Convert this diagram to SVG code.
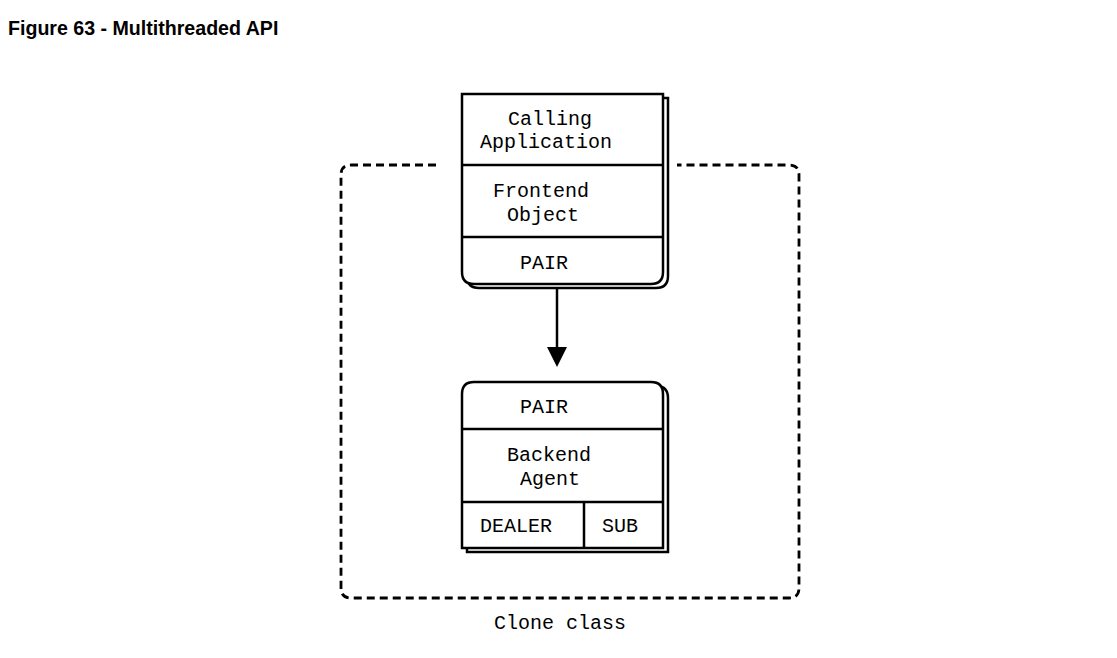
<svg xmlns="http://www.w3.org/2000/svg" width="1117" height="658" viewBox="0 0 1117 658">
<style>
.t{font-family:"Liberation Mono","DejaVu Sans Mono",monospace;font-size:20px;fill:#000;text-anchor:middle}
.title{font-family:"Liberation Sans",Arial,sans-serif;font-size:19.6px;font-weight:bold;fill:#000}
.box{fill:#fff;stroke:#000;stroke-width:2.5}
.ln{stroke:#000;stroke-width:2.5;fill:none}
.dash{fill:none;stroke:#000;stroke-width:2.8;stroke-dasharray:8 5}
</style>
<rect width="1117" height="658" fill="#fff"/>
<text class="title" x="8" y="35">Figure 63 - Multithreaded API</text>
<g id="clone-class">
<path class="dash" d="M436,165 H351 Q341,165 341,175 V588 Q341,598 351,598 H789 Q799,598 799,588 V175 Q799,165 789,165 H677"/>
<text class="t" x="560" y="629">Clone class</text>
</g>
<g id="connectors">
<line class="ln" x1="557" y1="287" x2="557" y2="350"/>
<polygon points="547,347 567,347 557,367" fill="#000"/>
</g>
<g id="frontend">
<path class="box" d="M467,98 H668 V276 Q668,288 656,288 H479 Q467,288 467,276 Z"/>
<path class="box" d="M462,94 H663 V272 Q663,284 651,284 H474 Q462,284 462,272 Z"/>
<line class="ln" x1="462" y1="165" x2="663" y2="165"/>
<line class="ln" x1="462" y1="237" x2="663" y2="237"/>
<text class="t" x="550" y="125">Calling</text>
<text class="t" x="546" y="148">Application</text>
<text class="t" x="541" y="197">Frontend</text>
<text class="t" x="543" y="221">Object</text>
<text class="t" x="544" y="269">PAIR</text>
</g>
<g id="backend">
<path class="box" d="M467,386 H656 Q668,386 668,398 V552 H467 V398 Q467,386 479,386 Z"/>
<path class="box" d="M474,382 H651 Q663,382 663,394 V548 H462 V394 Q462,382 474,382 Z"/>
<line class="ln" x1="462" y1="429" x2="663" y2="429"/>
<line class="ln" x1="462" y1="502" x2="663" y2="502"/>
<line class="ln" x1="584" y1="502" x2="584" y2="548"/>
<text class="t" x="544" y="413">PAIR</text>
<text class="t" x="549" y="461">Backend</text>
<text class="t" x="550" y="485">Agent</text>
<text class="t" x="516" y="532">DEALER</text>
<text class="t" x="620" y="532">SUB</text>
</g>
</svg>
